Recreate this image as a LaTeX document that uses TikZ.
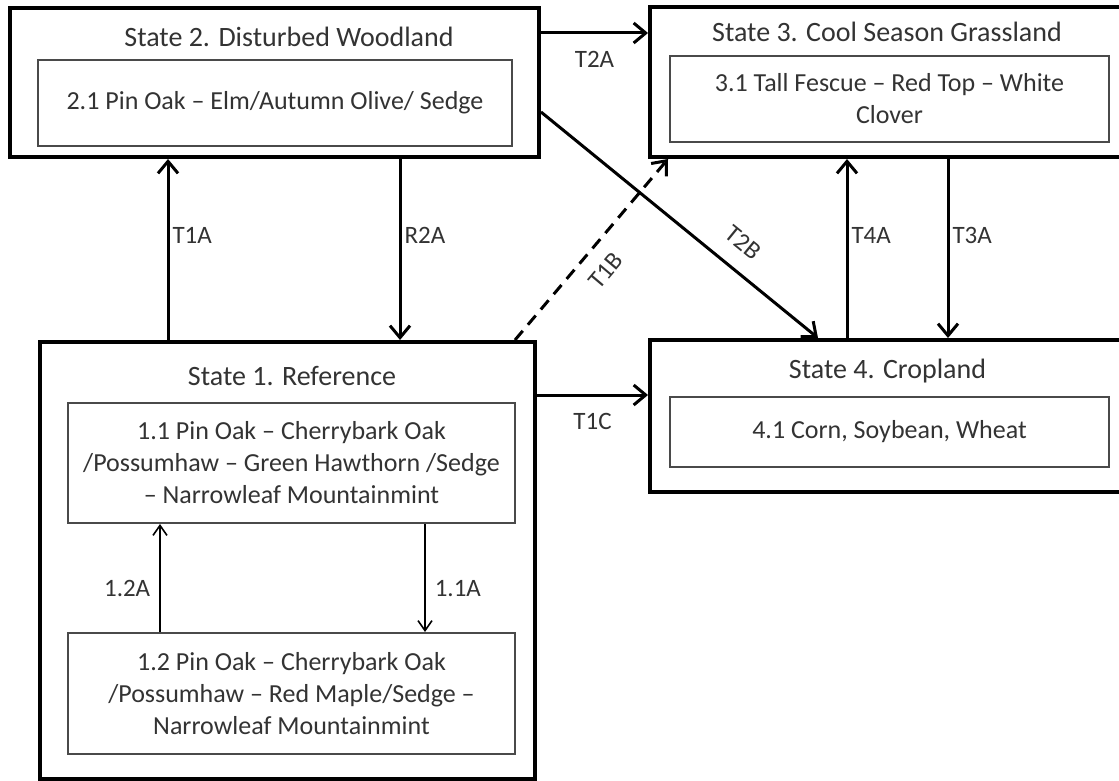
\documentclass[tikz,border=0pt]{standalone}
\usepackage{fontspec}
\setmainfont{Carlito}
\usetikzlibrary{arrows.meta,positioning}
\definecolor{txtgray}{HTML}{333333}
\definecolor{boxgray}{HTML}{4A4A4A}
\tikzset{
  statebox/.style={
    draw=black,
    rectangle,
    line width=2pt,
    inner sep=0pt
  },
  statetitle/.style={
    inner sep=0pt,
    text=txtgray,
    font=\fontsize{14}{17}\selectfont
  },
  phasebox/.style={
    draw=boxgray,
    rectangle,
    line width=1pt,
    inner sep=2pt,
    align=center,
    text=txtgray,
    font=\fontsize{13}{16}\selectfont
  },
  trans/.style={
    line width=1.5pt,
    -{Straight Barb[length=6pt,width=10pt]}
  },
  pathway/.style={
    line width=0.8pt,
    -{Straight Barb[length=5pt,width=7pt]}
  },
  tlabel/.style={
    inner sep=1.5pt,
    text=txtgray,
    font=\fontsize{12.5}{15}\selectfont
  }
}

\begin{document}
\begin{tikzpicture}[x=1pt, y=1pt]
  \useasboundingbox (0,0) rectangle (559.5,-390.5);
  \fill[white] (0,0) rectangle (559.5,-390.5);
  \clip (0,0) rectangle (559.5,-390.5);

  \coordinate (t1a) at (84,0);
  \coordinate (r2a) at (200,0);
  \coordinate (t4a) at (423.5,0);
  \coordinate (t3a) at (474,0);
  \coordinate (t2a) at (0,-16.5);
  \coordinate (t1c) at (0,-197.5);
  \coordinate (t2bS) at (0,-56);
  \coordinate (t2bE) at (409,0);
  \coordinate (t1bS) at (257.5,0);
  \coordinate (t1bE) at (334,0);
  \coordinate (p12a) at (80,0);
  \coordinate (p11a) at (212.5,0);

  \node[statebox, minimum width=264.5pt, minimum height=74.5pt] (s2) at (137.25,-41.25) {};
  \node[statetitle] (s2t) at (144.5,-18.5) {State 2. Disturbed Woodland};
  \node[phasebox, minimum width=237pt, minimum height=43pt] (b21) at (137.5,-51.5)
    {2.1 Pin Oak – Elm/Autumn Olive/ Sedge};

  \node[statebox, minimum width=238pt, minimum height=75pt] (s3) at (444,-41) {};
  \node[statetitle] (s3t) at (443.5,-16) {State 3. Cool Season Grassland};
  \node[phasebox, minimum width=219.5pt, minimum height=43pt] (b31) at (444.75,-49.5)
    {3.1 Tall Fescue – Red Top – White\\Clover};

  \node[statebox, minimum width=238pt, minimum height=76pt] (s4) at (444,-208) {};
  \node[statetitle] (s4t) at (443.75,-185.5) {State 4. Cropland};
  \node[phasebox, minimum width=219.5pt, minimum height=35pt] (b41) at (444.75,-216)
    {4.1 Corn, Soybean, Wheat};

  \node[statebox, minimum width=247.5pt, minimum height=218.5pt] (s1) at (143.75,-280.25) {};
  \node[statetitle] (s1t) at (146,-188) {State 1. Reference};
  \node[phasebox, minimum width=223.5pt, minimum height=60pt] (b11) at (145.75,-231.5)
    {1.1 Pin Oak – Cherrybark Oak\\/Possumhaw – Green Hawthorn /Sedge\\– Narrowleaf Mountainmint};
  \node[phasebox, minimum width=223.5pt, minimum height=60.5pt] (b12) at (145.75,-346.75)
    {1.2 Pin Oak – Cherrybark Oak\\/Possumhaw – Red Maple/Sedge –\\Narrowleaf Mountainmint};

  \draw[trans] (s1.north -| t1a) -- node[tlabel, right, pos=0.58] {T1A} (s2.south -| t1a);
  \draw[trans] (s2.south -| r2a) -- node[tlabel, right, pos=0.42] {R2A} (s1.north -| r2a);
  \draw[trans] (s2.east |- t2a) -- node[tlabel, below=7pt] {T2A} (s3.west |- t2a);
  \draw[trans] (s2.east |- t2bS) -- node[tlabel, sloped, above=7pt, pos=0.67] {T2B} (s4.north -| t2bE);
  \draw[trans, dash pattern=on 6pt off 4pt] (s1.north -| t1bS) -- node[tlabel, sloped, below=6pt, pos=0.47] {T1B} (s3.south -| t1bE);
  \draw[trans] (s1.east |- t1c) -- node[tlabel, below=7pt] {T1C} (s4.west |- t1c);
  \draw[trans] (s4.north -| t4a) -- node[tlabel, right, pos=0.57] {T4A} (s3.south -| t4a);
  \draw[trans] (s3.south -| t3a) -- node[tlabel, right, pos=0.43] {T3A} (s4.north -| t3a);

  \draw[pathway] (b12.north -| p12a) -- node[tlabel, left=3pt, pos=0.4] {1.2A} (b11.south -| p12a);
  \draw[pathway] (b11.south -| p11a) -- node[tlabel, right=3pt, pos=0.6] {1.1A} (b12.north -| p11a);
\end{tikzpicture}
\end{document}
